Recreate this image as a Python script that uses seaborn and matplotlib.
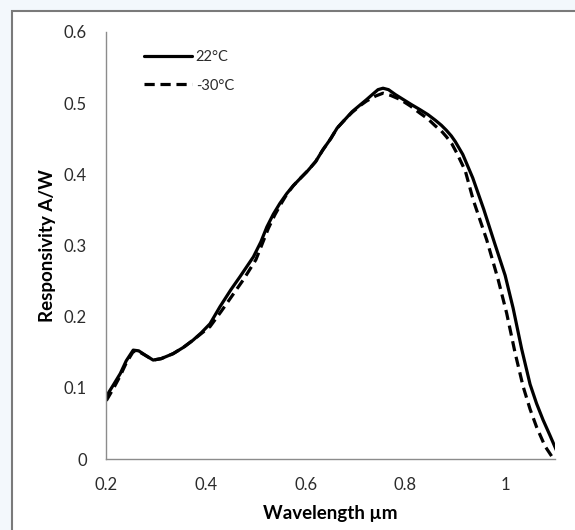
import matplotlib
matplotlib.use("Agg")
import matplotlib.pyplot as plt
from matplotlib.patches import Rectangle
import seaborn as sns
import pandas as pd

# ---- data ----
wl_22 = [0.20, 0.215, 0.228, 0.24, 0.254, 0.265, 0.28, 0.294, 0.31, 0.334, 0.355,
         0.374, 0.39, 0.408, 0.428, 0.45, 0.468, 0.495, 0.51, 0.522, 0.535, 0.548,
         0.562, 0.575, 0.59, 0.604, 0.62, 0.634, 0.65, 0.663, 0.68, 0.693, 0.71,
         0.722, 0.735, 0.745, 0.755, 0.766, 0.78, 0.796, 0.812, 0.829, 0.845, 0.86,
         0.872, 0.882, 0.892, 0.90, 0.915, 0.935, 0.957, 0.979, 1.0, 1.016, 1.033,
         1.05, 1.063, 1.076, 1.09, 1.103]
resp_22 = [0.088, 0.105, 0.12, 0.138, 0.153, 0.152, 0.145, 0.139, 0.141, 0.148, 0.157,
           0.167, 0.177, 0.19, 0.214, 0.238, 0.256, 0.284, 0.305, 0.326, 0.344, 0.359,
           0.373, 0.384, 0.395, 0.405, 0.418, 0.434, 0.45, 0.465, 0.478, 0.488, 0.498,
           0.505, 0.513, 0.519, 0.521, 0.519, 0.512, 0.505, 0.498, 0.491, 0.484, 0.476,
           0.469, 0.462, 0.454, 0.446, 0.428, 0.395, 0.351, 0.303, 0.258, 0.212, 0.155,
           0.105, 0.078, 0.055, 0.033, 0.012]

wl_m30 = [0.20, 0.215, 0.228, 0.24, 0.254, 0.265, 0.28, 0.294, 0.31, 0.334, 0.355,
          0.374, 0.39, 0.408, 0.43, 0.455, 0.475, 0.50, 0.512, 0.525, 0.538, 0.55,
          0.562, 0.575, 0.59, 0.604, 0.62, 0.634, 0.65, 0.663, 0.68, 0.693, 0.71,
          0.722, 0.74, 0.755, 0.77, 0.79, 0.81, 0.829, 0.845, 0.86, 0.872, 0.882,
          0.893, 0.903, 0.92, 0.936, 0.963, 0.986, 1.003, 1.02, 1.036, 1.05, 1.063,
          1.08, 1.097]
resp_m30 = [0.082, 0.100, 0.117, 0.135, 0.151, 0.151, 0.145, 0.139, 0.141, 0.148, 0.157,
            0.167, 0.176, 0.186, 0.207, 0.232, 0.252, 0.280, 0.301, 0.324, 0.343, 0.358,
            0.372, 0.384, 0.395, 0.405, 0.418, 0.434, 0.45, 0.465, 0.478, 0.487, 0.497,
            0.503, 0.510, 0.514, 0.511, 0.505, 0.496, 0.486, 0.478, 0.468, 0.461, 0.453,
            0.443, 0.43, 0.405, 0.364, 0.308, 0.252, 0.205, 0.149, 0.102, 0.070, 0.045,
            0.018, 0.0]

series_names = ["22°C", "-30°C"]
x_ticks = [0.2, 0.4, 0.6, 0.8, 1.0]
x_tick_labels = ["0.2", "0.4", "0.6", "0.8", "1"]
y_ticks = [0, 0.1, 0.2, 0.3, 0.4, 0.5, 0.6]
y_tick_labels = ["0", "0.1", "0.2", "0.3", "0.4", "0.5", "0.6"]

df = pd.concat([
    pd.DataFrame({"wl": wl_22, "resp": resp_22, "series": series_names[0]}),
    pd.DataFrame({"wl": wl_m30, "resp": resp_m30, "series": series_names[1]}),
], ignore_index=True)

sns.set_style("white")
plt.rcParams["font.family"] = ["Lato", "DejaVu Sans"]

W, H = 575, 530
fig = plt.figure(figsize=(W / 100, H / 100), dpi=100)
fig.patch.set_facecolor("#f3f8fc")
# white panel with grey frame
frame = Rectangle((12 / W, -0.01), 1.0, 1.01 - 11 / H, transform=fig.transFigure,
                  facecolor="white", edgecolor="#7a7a7a", lw=1.5, zorder=-10)
fig.add_artist(frame)

ax = fig.add_axes([106.3 / W, 1 - 459 / H, (555 - 106.3) / W, (459 - 32) / H])
ax.set_facecolor("none")
ax.set_zorder(5)

sns.lineplot(data=df, x="wl", y="resp", style="series", hue="series",
             palette={series_names[0]: "black", series_names[1]: "black"},
             dashes={series_names[0]: "", series_names[1]: (3.2, 1.8)},
             linewidth=2.3, sort=False, estimator=None, ax=ax, legend=True)
for ln in ax.get_lines():
    ln.set_solid_joinstyle("round")
    ln.set_dash_joinstyle("round")

ax.set_xlim(0.2, 1.1)
ax.set_ylim(0, 0.6)
ax.set_xticks(x_ticks, x_tick_labels)
ax.set_yticks(y_ticks, y_tick_labels)

for s in ["top", "right"]:
    ax.spines[s].set_visible(False)
for s in ["left", "bottom"]:
    ax.spines[s].set_color("#8c8c8c")
    ax.spines[s].set_linewidth(1.0)

ax.tick_params(axis="both", direction="out", length=5, width=1.0, color="#8c8c8c",
               labelsize=12, labelcolor="#2b2b2b")
ax.tick_params(axis="y", pad=9)
ax.tick_params(axis="x", pad=8)

ax.set_xlabel("Wavelength µm", fontsize=13.5, fontweight="bold", color="black")
ax.set_ylabel("Responsivity A/W", fontsize=13.5, fontweight="bold", color="black")
ax.xaxis.set_label_coords(0.5, (459 - 514) / 427)
ax.xaxis.label.set_va("center")
ax.yaxis.set_label_coords((47 - 106.3) / 448.7, 0.5)
ax.yaxis.label.set_va("center")

leg = ax.legend(loc="upper left", bbox_to_anchor=((144 - 106.3) / 448.7, (459 - 50) / 427),
                frameon=False, fontsize=10.5, handlelength=3.3, handletextpad=0.25,
                labelspacing=1.0, borderpad=0, borderaxespad=0)
for t in leg.get_texts():
    t.set_color("#2b2b2b")
for h in leg.get_lines():
    h.set_linewidth(2.3)

fig.savefig("out.png", dpi=100, facecolor=fig.get_facecolor())
